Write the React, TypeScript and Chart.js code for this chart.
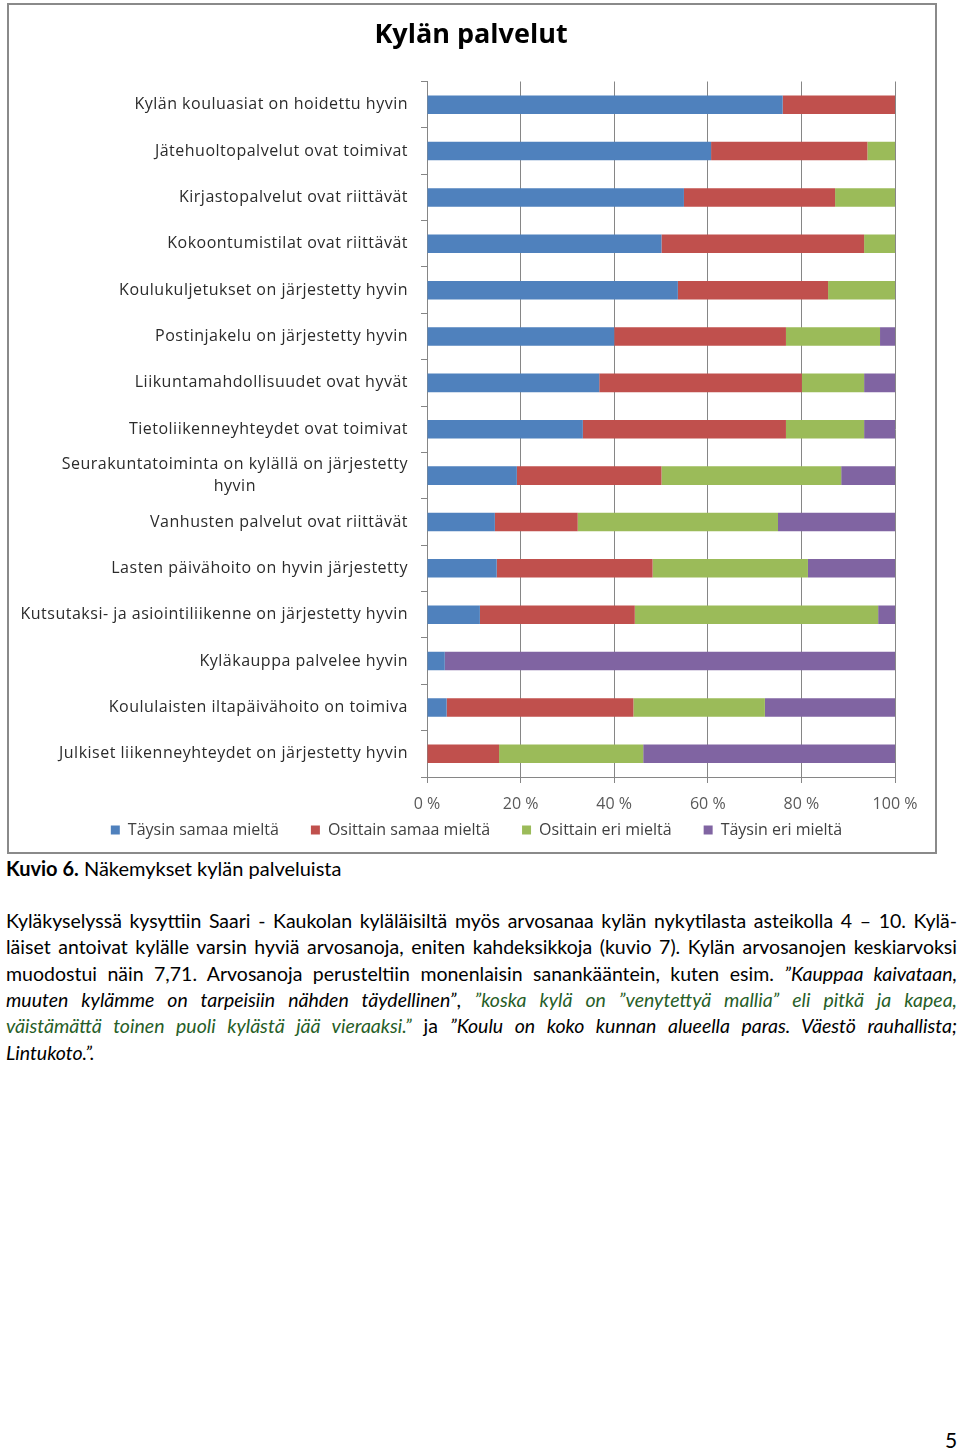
import React, { useEffect, useRef } from 'react';
import { Chart, registerables } from 'chart.js';

Chart.register(...registerables);

const categories: (string | string[])[] = [
  'Kylän kouluasiat on hoidettu hyvin',
  'Jätehuoltopalvelut ovat toimivat',
  'Kirjastopalvelut ovat riittävät',
  'Kokoontumistilat ovat riittävät',
  'Koulukuljetukset on järjestetty hyvin',
  'Postinjakelu on järjestetty hyvin',
  'Liikuntamahdollisuudet ovat hyvät',
  'Tietoliikenneyhteydet ovat toimivat',
  ['Seurakuntatoiminta on kylällä on järjestetty', 'hyvin'],
  'Vanhusten palvelut ovat riittävät',
  'Lasten päivähoito on hyvin järjestetty',
  'Kutsutaksi- ja asiointiliikenne on järjestetty hyvin',
  'Kyläkauppa palvelee hyvin',
  'Koululaisten iltapäivähoito on toimiva',
  'Julkiset liikenneyhteydet on järjestetty hyvin',
];

const seriesNames = ['Täysin samaa mieltä', 'Osittain samaa mieltä', 'Osittain eri mieltä', 'Täysin eri mieltä'];
const seriesColors = ['#4F81BD', '#C0504D', '#9BBB59', '#8064A2'];

const taysinSamaa = [76.0, 60.7, 54.9, 50.1, 53.6, 40.0, 36.8, 33.3, 19.2, 14.5, 14.9, 11.3, 3.8, 4.2, 0];
const osittainSamaa = [24.0, 33.4, 32.3, 43.3, 32.1, 36.7, 43.3, 43.4, 30.9, 17.7, 33.3, 33.1, 0, 39.9, 15.4];
const osittainEri = [0, 5.9, 12.8, 6.6, 14.3, 20.1, 13.3, 16.7, 38.4, 42.8, 33.2, 52.0, 0, 28.1, 30.8];
const taysinEri = [0, 0, 0, 0, 0, 3.2, 6.6, 6.6, 11.5, 25.0, 18.6, 3.6, 96.2, 27.8, 53.8];

const xTicks = [0, 20, 40, 60, 80, 100];

const chartTitle = 'Kylän palvelut';

const GRID = '#868686';
const FONT = '"Open Sans", sans-serif';
const LEGEND_PAD = 32;

const yLabelPlugin = {
  id: 'yLabels',
  afterDraw(chart: any) {
    const ctx = chart.ctx;
    const yScale = chart.scales.y;
    ctx.save();
    ctx.font = `16px ${FONT}`;
    try { (ctx as any).letterSpacing = '0.5px'; } catch (e) {}
    ctx.fillStyle = '#2b2b2b';
    ctx.textBaseline = 'middle';
    ctx.textAlign = 'center';
    const right = yScale.right - 19;
    const lineH = 22;
    categories.forEach((lab, i) => {
      const lines = Array.isArray(lab) ? lab : [lab];
      const widths = lines.map((l) => ctx.measureText(l).width);
      const maxW = Math.max(...widths);
      const cx = right - maxW / 2;
      const cy = yScale.getPixelForValue(i);
      lines.forEach((l, k) => {
        const y = cy + (k - (lines.length - 1) / 2) * lineH;
        ctx.fillText(l, cx, y);
      });
    });
    ctx.restore();
  },
};

const layoutTweak = {
  id: 'layoutTweak',
  afterLayout(chart: any) {
    const t = chart.titleBlock;
    if (t) {
      t.left = 0;
      t.right = chart.width - 2;
    }
    const lg = chart.legend;
    if (lg) {
      lg.left = 9;
      lg.right = chart.width;
      lg.top = 825 - LEGEND_PAD - 8;
      lg.bottom = chart.height;
    }
  },
};

function ChartBox() {
  const ref = useRef<HTMLCanvasElement>(null);
  useEffect(() => {
    if (!ref.current) return;
    const data = [taysinSamaa, osittainSamaa, osittainEri, taysinEri];
    const chart = new Chart(ref.current, {
      type: 'bar',
      data: {
        labels: categories as any,
        datasets: data.map((d, i) => ({
          label: seriesNames[i],
          data: d,
          backgroundColor: seriesColors[i],
          borderWidth: 0,
          categoryPercentage: 0.4,
          barPercentage: 1,
        })),
      },
      options: {
        indexAxis: 'y',
        responsive: false,
        animation: false,
        layout: { padding: { left: 0, right: 40, top: 0, bottom: 0 } },
        plugins: {
          title: {
            display: true,
            text: chartTitle,
            color: '#000',
            font: { family: FONT, size: 27, weight: 'bold' },
            padding: { top: 13.8, bottom: 30.3 },
          },
          legend: {
            position: 'bottom',
            maxHeight: 37,
            labels: {
              boxWidth: 9,
              boxHeight: 9,
              padding: LEGEND_PAD,
              color: '#404040',
              font: { family: FONT, size: 16 },
            },
          },
          tooltip: { enabled: false },
        },
        scales: {
          x: {
            stacked: true,
            min: 0,
            max: 100,
            afterBuildTicks: (scale: any) => {
              scale.ticks = xTicks.map((v) => ({ value: v }));
            },
            afterFit: (scale: any) => {
              scale.height = 38;
            },
            ticks: {
              color: '#595959',
              padding: 12,
              font: { family: FONT, size: 16 },
              callback: (v: any) => `${v} %`,
            },
            grid: { color: GRID, tickLength: 6, lineWidth: 1 },
            border: { display: true, color: GRID },
          },
          y: {
            stacked: true,
            afterFit: (scale: any) => {
              scale.width = 418;
            },
            ticks: { display: false },
            grid: { offset: true, drawOnChartArea: false, tickLength: 6, color: GRID },
            border: { display: true, color: GRID },
          },
        },
      },
      plugins: [yLabelPlugin, layoutTweak],
    });
    return () => chart.destroy();
  }, []);
  return <canvas ref={ref} width={926} height={847} style={{ position: 'absolute', left: 9, top: 5 }} />;
}

const lineStyle: React.CSSProperties = {
  textAlign: 'justify',
  textAlignLast: 'justify' as any,
  whiteSpace: 'nowrap',
  height: 26.4,
  lineHeight: '26.4px',
};
const lastLine: React.CSSProperties = { ...lineStyle, textAlignLast: 'left' as any };
const GREEN = '#275e27';

export default function App() {
  return (
    <div style={{ position: 'absolute', left: 0, top: 0, width: 960, height: 1449, background: '#fff', fontFamily: 'Lato, sans-serif', color: '#000' }}>
      <div style={{ position: 'absolute', left: 7, top: 3, width: 930, height: 851, border: '2px solid #8a8a8a', boxSizing: 'border-box' }} />
      <ChartBox />
      <div style={{ position: 'absolute', left: 6, top: 856, fontSize: 20, lineHeight: '24px' }}>
        <b>Kuvio 6.</b> Näkemykset kylän palveluista
      </div>
      <div style={{ position: 'absolute', left: 6, top: 907.8, width: 951, fontSize: 19.5 }}>
        <div style={lineStyle}>Kyläkyselyssä kysyttiin Saari - Kaukolan kyläläisiltä myös arvosanaa kylän nykytilasta asteikolla 4 – 10. Kylä-</div>
        <div style={lineStyle}>läiset antoivat kylälle varsin hyviä arvosanoja, eniten kahdeksikkoja (kuvio 7). Kylän arvosanojen keskiarvoksi</div>
        <div style={lineStyle}>muodostui näin 7,71. Arvosanoja perusteltiin monenlaisin sanankääntein, kuten esim. <i>”Kauppaa kaivataan,</i></div>
        <div style={lineStyle}><i>muuten kylämme on tarpeisiin nähden täydellinen”</i>, <i style={{ color: GREEN }}>”koska kylä on ”venytettyä mallia” eli pitkä ja kapea,</i></div>
        <div style={lineStyle}><i style={{ color: GREEN }}>väistämättä toinen puoli kylästä jää vieraaksi.”</i> ja <i>”Koulu on koko kunnan alueella paras. Väestö rauhallista;</i></div>
        <div style={lastLine}><i>Lintukoto.”.</i></div>
      </div>
      <div style={{ position: 'absolute', left: 945, top: 1427, fontSize: 21, lineHeight: '26px' }}>5</div>
    </div>
  );
}
